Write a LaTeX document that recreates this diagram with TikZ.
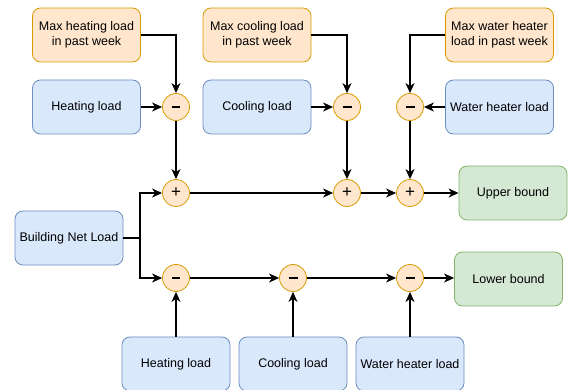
\documentclass[tikz,border=0pt]{standalone}
\usepackage{fontspec}
\setmainfont{Liberation Sans}
\usetikzlibrary{arrows.meta, positioning}
\definecolor{maxFill}{HTML}{FFE6CC}
\definecolor{maxLine}{HTML}{D79B00}
\definecolor{loadFill}{HTML}{DAE8FC}
\definecolor{loadLine}{HTML}{6C8EBF}
\definecolor{boundFill}{HTML}{D5E8D4}
\definecolor{boundLine}{HTML}{82B366}
\newcommand{\minussign}{\rule[-1.4pt]{9pt}{2.8pt}}

\begin{document}
\begin{tikzpicture}[x=1pt, y=-1pt,
    font=\fontsize{12.5}{15}\selectfont,
    box/.style={rectangle, rounded corners=8pt, minimum width=108pt,
      minimum height=54pt, align=center, inner sep=1pt, line width=0.8pt},
    maxbox/.style={box, draw=maxLine, fill=maxFill},
    loadbox/.style={box, draw=loadLine, fill=loadFill},
    boundbox/.style={box, draw=boundLine, fill=boundFill},
    op/.style={circle, draw=maxLine, fill=maxFill, minimum size=27pt,
      inner sep=0pt, line width=0.8pt, font=\fontsize{17}{17}\selectfont},
    link/.style={line width=1.2pt, -{Stealth[length=10pt, width=9pt, inset=3pt]}}]
    \useasboundingbox (0,0) rectangle (574,390);

    % limites semanales
    \node[maxbox] (maxheat)  at (86.5,35)  {Max heating load\\in past week};
    \node[maxbox] (maxcool)  at (257,35)   {Max cooling load\\in past week};
    \node[maxbox] (maxwater) at (499.5,35) {Max water heater\\load in past week};

    % cargas de arriba
    \node[loadbox] (heatload)  at (86.5,107)  {Heating load};
    \node[loadbox] (coolload)  at (257,107)   {Cooling load};
    \node[loadbox] (waterload) at (499.5,107) {Water heater load};

    % restas de arriba
    \node[op] (subheat)  at (176,107) {\minussign};
    \node[op] (subcool)  at (347,107) {\minussign};
    \node[op] (subwater) at (410,107) {\minussign};

    % sumas
    \node[op] (addheat)  at (176,193) {+};
    \node[op] (addcool)  at (347,193) {+};
    \node[op] (addwater) at (410,193) {+};

    % carga neta y salidas
    \node[loadbox] (netload) at (69,238) {Building Net Load};
    \node[boundbox] (upper) at (513,193) {Upper bound};
    \node[boundbox] (lower) at (508.5,279) {Lower bound};

    % restas de abajo
    \node[op] (lowheat)  at (176,278) {\minussign};
    \node[op] (lowcool)  at (293,278) {\minussign};
    \node[op] (lowwater) at (410,278) {\minussign};

    % cargas de abajo
    \node[loadbox] (heatload2)  at (176,364) {Heating load};
    \node[loadbox] (coolload2)  at (293,364) {Cooling load};
    \node[loadbox] (waterload2) at (410,364) {Water heater load};

    % conexiones de arriba
    \draw[link] (maxheat.east) -| (subheat.north);
    \draw[link] (maxcool.east) -| (subcool.north);
    \draw[link] (maxwater.west) -| (subwater.north);
    \draw[link] (heatload.east) -- (subheat.west);
    \draw[link] (coolload.east) -- (subcool.west);
    \draw[link] (waterload.west) -- (subwater.east);
    \draw[link] (subheat.south) -- (addheat.north);
    \draw[link] (subcool.south) -- (addcool.north);
    \draw[link] (subwater.south) -- (addwater.north);

    % cota superior
    \coordinate (split) at (140,238);
    \draw[line width=1.2pt] (netload.east) -- (split);
    \draw[link] (split) |- (addheat.west);
    \draw[link] (addheat.east) -- (addcool.west);
    \draw[link] (addcool.east) -- (addwater.west);
    \draw[link] (addwater.east) -- (upper.west);

    % cota inferior
    \draw[link] (split) |- (lowheat.west);
    \draw[link] (lowheat.east) -- (lowcool.west);
    \draw[link] (lowcool.east) -- (lowwater.west);
    \draw[link] (lowwater.east) -- (lowwater.east -| lower.west);
    \draw[link] (heatload2.north) -- (lowheat.south);
    \draw[link] (coolload2.north) -- (lowcool.south);
    \draw[link] (waterload2.north) -- (lowwater.south);
  \end{tikzpicture}
\end{document}
